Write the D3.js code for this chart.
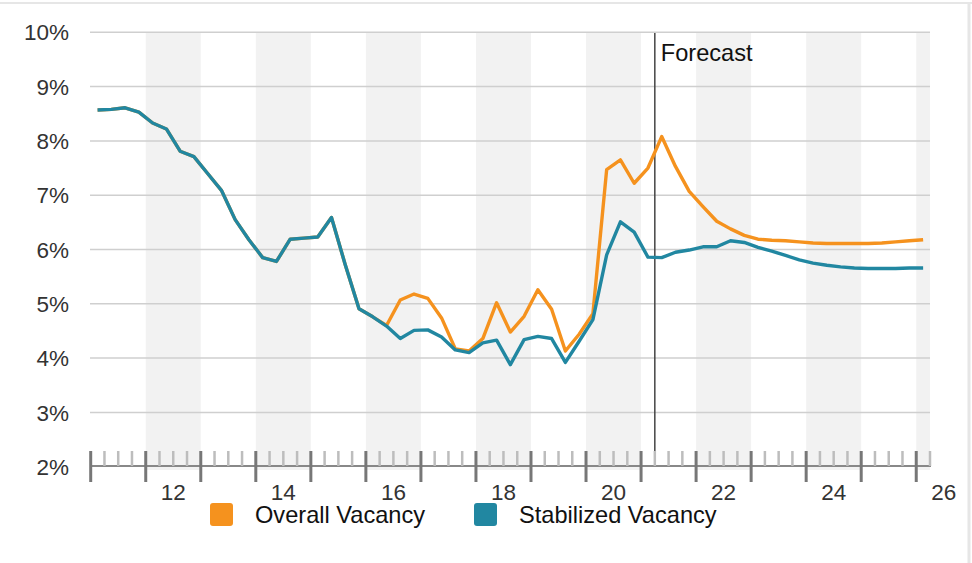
<!DOCTYPE html>
<html>
<head>
<meta charset="utf-8">
<script src="https://d3js.org/d3.v7.min.js"></script>
<style>
  body { margin: 0; background: #fff; }
  text { font-family: "Liberation Sans", Arial, Helvetica, sans-serif; }
</style>
</head>
<body>
<svg id="chart" width="972" height="563"></svg>
<script>
// quarterly series, Q1 2011 .. Q1 2026
const startYear = 2011;
const overall = [
  8.57, 8.58, 8.61, 8.53, 8.33, 8.22, 7.81, 7.71, 7.40, 7.09,
  6.55, 6.18, 5.85, 5.78, 6.19, 6.21, 6.23, 6.59, 5.72, 4.91,
  4.76, 4.60, 5.07, 5.18, 5.10, 4.74, 4.17, 4.13, 4.36, 5.02,
  4.48, 4.77, 5.26, 4.90, 4.13, 4.44, 4.82, 7.47, 7.65, 7.22,
  7.50, 8.08, 7.53, 7.07, 6.79, 6.52, 6.38, 6.26, 6.19, 6.17,
  6.16, 6.14, 6.12, 6.11, 6.11, 6.11, 6.11, 6.12, 6.14, 6.16,
  6.18
];
const stabilized = [
  8.57, 8.58, 8.61, 8.53, 8.33, 8.22, 7.81, 7.71, 7.40, 7.09,
  6.55, 6.18, 5.85, 5.78, 6.19, 6.21, 6.23, 6.59, 5.72, 4.91,
  4.76, 4.59, 4.36, 4.51, 4.52, 4.39, 4.15, 4.10, 4.28, 4.33,
  3.88, 4.34, 4.40, 4.36, 3.92, 4.31, 4.71, 5.90, 6.51, 6.32,
  5.86, 5.85, 5.95, 5.99, 6.05, 6.05, 6.16, 6.13, 6.04, 5.97,
  5.89, 5.81, 5.75, 5.71, 5.68, 5.66, 5.65, 5.65, 5.65, 5.66,
  5.66
];
const yTicks = [2, 3, 4, 5, 6, 7, 8, 9, 10];
const yearLabels = [2012, 2014, 2016, 2018, 2020, 2022, 2024, 2026];
const forecastStart = 2021.25;

const svg = d3.select('#chart');

// outer frame (top + right)
svg.append('line').attr('x1', 0).attr('x2', 972).attr('y1', 3).attr('y2', 3)
  .style('stroke', '#e6e6e6').style('stroke-width', 2);
svg.append('line').attr('x1', 969).attr('x2', 969).attr('y1', 3).attr('y2', 563)
  .style('stroke', '#e6e6e6').style('stroke-width', 3);

const x = d3.scaleLinear().domain([2011, 2026.25]).range([90.7, 930]);
const y = d3.scaleLinear().domain([2, 10]).range([466.7, 32.3]);

const qx = i => x(startYear + (i + 0.5) / 4);

// shaded even-year bands
const years = d3.range(2011, 2027);
svg.append('g').selectAll('rect')
  .data(years.filter(d => d % 2 === 0))
  .enter().append('rect')
    .attr('x', d => x(d))
    .attr('width', d => Math.min(x(d + 1), 930) - x(d))
    .attr('y', y(10))
    .attr('height', 470 - y(10))
    .attr('fill', '#f2f2f2');

// gridlines
svg.append('g').selectAll('line')
  .data(yTicks.filter(d => d > 2))
  .enter().append('line')
    .attr('x1', 90).attr('x2', 930)
    .attr('y1', d => y(d)).attr('y2', d => y(d))
    .style('stroke', '#cfcfcf').style('stroke-width', 1.5);

// y labels
svg.append('g').selectAll('text')
  .data(yTicks)
  .enter().append('text')
    .attr('x', 69).attr('y', d => y(d))
    .attr('dy', '0.36em')
    .attr('text-anchor', 'end')
    .attr('font-size', 22.5)
    .attr('fill', '#333')
    .text(d => d + '%');

// x axis line + ticks
const axisY = 466;
svg.append('line').attr('x1', 90).attr('x2', 931).attr('y1', axisY).attr('y2', axisY)
  .style('stroke', '#888').style('stroke-width', 2);

const quarters = d3.range(0, 62).map(i => 2011 + i / 4).filter((d, i) => i % 4 !== 0);
svg.append('g').selectAll('line')
  .data(quarters)
  .enter().append('line')
    .attr('x1', d => x(d)).attr('x2', d => x(d))
    .attr('y1', 451).attr('y2', axisY)
    .style('stroke', '#bdbdbd').style('stroke-width', 2.5);

svg.append('g').selectAll('line')
  .data(years)
  .enter().append('line')
    .attr('x1', d => x(d)).attr('x2', d => x(d))
    .attr('y1', 451).attr('y2', 482)
    .style('stroke', '#777').style('stroke-width', 3);

svg.append('g').selectAll('text')
  .data(yearLabels)
  .enter().append('text')
    .attr('x', d => x(d + 0.5)).attr('y', 500)
    .attr('text-anchor', 'middle')
    .attr('font-size', 22.5)
    .attr('fill', '#333')
    .text(d => String(d).slice(2));

// forecast marker
svg.append('line')
  .attr('x1', x(forecastStart)).attr('x2', x(forecastStart))
  .attr('y1', 33).attr('y2', 451)
  .style('stroke', '#444').style('stroke-width', 1.5);
svg.append('text')
  .attr('x', x(forecastStart) + 6).attr('y', 61)
  .attr('font-size', 23.6)
  .attr('fill', '#111')
  .text('Forecast');

// lines
const line = d3.line().x((d, i) => qx(i)).y(d => y(d));
svg.append('path').datum(overall)
  .attr('d', line).attr('fill', 'none')
  .style('stroke', '#f5921e').style('stroke-width', 3.4).style('stroke-linejoin', 'round');
svg.append('path').datum(stabilized)
  .attr('d', line).attr('fill', 'none')
  .style('stroke', '#2187a1').style('stroke-width', 3.4).style('stroke-linejoin', 'round');

// legend
const legend = [
  { name: 'Overall Vacancy', color: '#f5921e', x: 210 },
  { name: 'Stabilized Vacancy', color: '#2187a1', x: 474 }
];
const lg = svg.append('g').selectAll('g').data(legend).enter().append('g');
lg.append('rect')
  .attr('x', d => d.x).attr('y', 503)
  .attr('width', 23).attr('height', 23).attr('rx', 3)
  .attr('fill', d => d.color);
lg.append('text')
  .attr('x', d => d.x + 45).attr('y', 523)
  .attr('font-size', 23.6)
  .attr('fill', '#111')
  .text(d => d.name);
</script>
</body>
</html>
